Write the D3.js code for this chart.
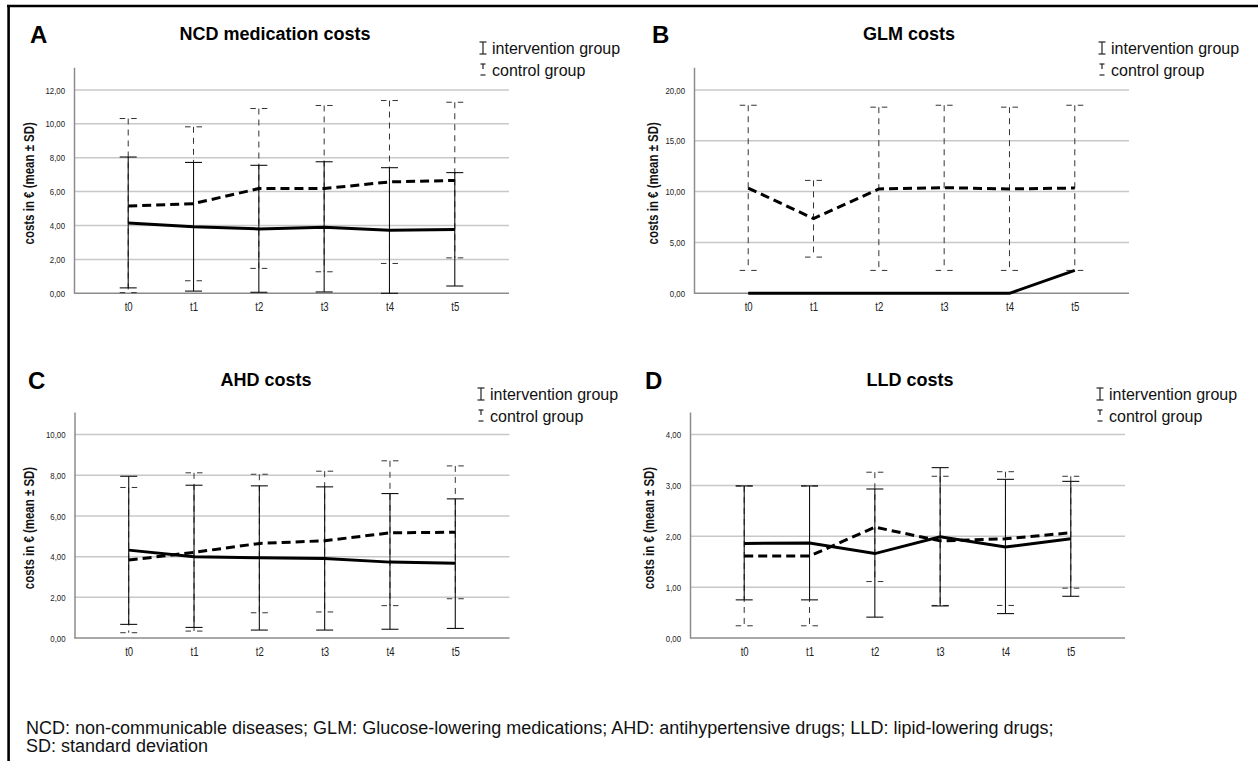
<!DOCTYPE html>
<html><head><meta charset="utf-8">
<script src="https://cdn.jsdelivr.net/npm/d3@7/dist/d3.min.js"></script>
<style>
html,body{margin:0;padding:0;background:#fff;}
svg{display:block;}
</style></head>
<body>
<svg id="chart" width="1258" height="761"></svg>
<script>
// ---------- DATA ----------
const categories = ["t0", "t1", "t2", "t3", "t4", "t5"];
const legendLabels = ["intervention group", "control group"];

// A: NCD medication costs
const ncdTicks = [0, 2, 4, 6, 8, 10, 12];
const ncdIntMean = [4.15, 3.92, 3.80, 3.90, 3.72, 3.76];
const ncdIntLow  = [0.32, 0.13, 0.06, 0.08, 0.00, 0.43];
const ncdIntHigh = [8.04, 7.72, 7.55, 7.76, 7.41, 7.12];
const ncdCtlMean = [5.15, 5.29, 6.18, 6.18, 6.57, 6.66];
const ncdCtlLow  = [0.04, 0.74, 1.47, 1.27, 1.76, 2.09];
const ncdCtlHigh = [10.31, 9.82, 10.90, 11.08, 11.37, 11.27];

// B: GLM costs
const glmTicks = [0, 5, 10, 15, 20];
const glmIntMean = [0, 0, 0, 0, 0, 2.25];
const glmCtlMean = [10.35, 7.35, 10.26, 10.39, 10.26, 10.35];
const glmCtlLow  = [2.25, 3.56, 2.25, 2.25, 2.25, 2.25];
const glmCtlHigh = [18.49, 11.10, 18.30, 18.49, 18.30, 18.49];

// C: AHD costs
const ahdTicks = [0, 2, 4, 6, 8, 10];
const ahdIntMean = [4.32, 3.99, 3.94, 3.91, 3.73, 3.67];
const ahdIntLow  = [0.67, 0.52, 0.39, 0.39, 0.43, 0.47];
const ahdIntHigh = [7.95, 7.51, 7.48, 7.43, 7.10, 6.84];
const ahdCtlMean = [3.83, 4.21, 4.65, 4.78, 5.17, 5.20];
const ahdCtlLow  = [0.26, 0.34, 1.24, 1.28, 1.59, 1.93];
const ahdCtlHigh = [7.40, 8.12, 8.05, 8.20, 8.71, 8.46];

// D: LLD costs
const lldTicks = [0, 1, 2, 3, 4];
const lldIntMean = [1.86, 1.87, 1.66, 1.99, 1.79, 1.95];
const lldIntLow  = [0.75, 0.75, 0.41, 0.63, 0.48, 0.82];
const lldIntHigh = [2.99, 2.99, 2.93, 3.35, 3.12, 3.08];
const lldCtlMean = [1.61, 1.61, 2.18, 1.91, 1.95, 2.07];
const lldCtlLow  = [0.24, 0.24, 1.11, 0.64, 0.64, 0.98];
const lldCtlHigh = [2.99, 2.99, 3.26, 3.18, 3.27, 3.18];

const footnoteLines = [
  "NCD: non-communicable diseases; GLM: Glucose-lowering medications; AHD: antihypertensive drugs; LLD: lipid-lowering drugs;",
  "SD: standard deviation"
];

// ---------- LAYOUT ----------
const panels = [
  {letter: "A", title: "NCD medication costs", ticks: ncdTicks,
   intMean: ncdIntMean, intLow: ncdIntLow, intHigh: ncdIntHigh,
   ctlMean: ncdCtlMean, ctlLow: ncdCtlLow, ctlHigh: ncdCtlHigh,
   ox: 74, oy: 293.3, letterX: 30, titleX: 275, legX: 483, titleYX: 34, dy: 0},
  {letter: "B", title: "GLM costs", ticks: glmTicks,
   intMean: glmIntMean, intLow: null, intHigh: null,
   ctlMean: glmCtlMean, ctlLow: glmCtlLow, ctlHigh: glmCtlHigh,
   ox: 694, oy: 293.3, letterX: 652, titleX: 909, legX: 1102, titleYX: 658, dy: 0},
  {letter: "C", title: "AHD costs", ticks: ahdTicks,
   intMean: ahdIntMean, intLow: ahdIntLow, intHigh: ahdIntHigh,
   ctlMean: ahdCtlMean, ctlLow: ahdCtlLow, ctlHigh: ahdCtlHigh,
   ox: 74.5, oy: 638, letterX: 28, titleX: 266, legX: 481, titleYX: 34, dy: 346},
  {letter: "D", title: "LLD costs", ticks: lldTicks,
   intMean: lldIntMean, intLow: lldIntLow, intHigh: lldIntHigh,
   ctlMean: lldCtlMean, ctlLow: lldCtlLow, ctlHigh: lldCtlHigh,
   ox: 690, oy: 638, letterX: 645, titleX: 910, legX: 1100, titleYX: 654, dy: 346}
];
const plotW = 435, axisH = 226;
const sans = "'Liberation Sans',Arial,Helvetica,sans-serif";
const squeeze = 0.8; // horizontal compression for the condensed axis font

const svg = d3.select("#chart");

// outer frame (top and left rules)
svg.append("line").attr("x1", 7).attr("x2", 1258).attr("y1", 6).attr("y2", 6)
  .attr("stroke", "#000").attr("stroke-width", 2.6);
svg.append("line").attr("x1", 8.6).attr("x2", 8.6).attr("y1", 5).attr("y2", 761)
  .attr("stroke", "#000").attr("stroke-width", 2.6);

const fmt = v => d3.format(".2f")(v).replace(".", ",");

panels.forEach(p => {
  const g = svg.append("g");
  const top = p.ticks[p.ticks.length - 1];
  const x = d3.scalePoint().domain(categories).range([p.ox, p.ox + plotW]).padding(0.83);
  const y = d3.scaleLinear().domain([0, top * 1.111]).range([p.oy, p.oy - axisH]);

  // gridlines
  g.append("g").selectAll("line").data(p.ticks.filter(t => t > 0)).join("line")
    .attr("x1", p.ox).attr("x2", p.ox + plotW)
    .attr("y1", d => y(d)).attr("y2", d => y(d))
    .attr("stroke", "#c8c8c8").attr("stroke-width", 1.5);

  // y axis (labels only, no tick marks)
  const yAxis = d3.axisLeft(y).tickValues(p.ticks).tickFormat(fmt).tickSize(0).tickPadding(9);
  const ya = g.append("g").attr("transform", `translate(${p.ox},0)`).call(yAxis);
  ya.select(".domain").attr("stroke", "#8c8c8c").attr("stroke-width", 1.5);
  ya.selectAll("text").attr("font-family", sans).attr("font-size", 9.8).attr("fill", "#222")
    .attr("x", -9 / squeeze).attr("transform", `scale(${squeeze},1)`);

  // x axis
  const xAxis = d3.axisBottom(x).tickSize(0).tickPadding(9);
  const xa = g.append("g").attr("transform", `translate(0,${p.oy})`).call(xAxis);
  xa.select(".domain").attr("d", `M${p.ox},0H${p.ox + plotW}`).attr("stroke", "#8c8c8c").attr("stroke-width", 1.5);
  xa.selectAll("text").attr("font-family", sans).attr("font-size", 12).attr("fill", "#222")
    .attr("transform", `scale(${squeeze},1)`);

  // y axis title
  g.append("text")
    .attr("transform", `translate(${p.titleYX},${p.oy - 110}) rotate(-90) scale(0.82,1)`)
    .attr("text-anchor", "middle")
    .attr("font-family", sans).attr("font-weight", "bold").attr("font-size", 14)
    .attr("fill", "#111")
    .text("costs in € (mean ± SD)");

  const capW = 8.5;
  // control error bars (dashed)
  if (p.ctlLow) {
    const cb = g.append("g").attr("stroke", "#333").attr("stroke-width", 1).attr("fill", "none");
    categories.forEach((c, i) => {
      const cx = x(c);
      cb.append("line").attr("x1", cx).attr("x2", cx)
        .attr("y1", y(p.ctlHigh[i])).attr("y2", y(p.ctlLow[i]))
        .attr("stroke-dasharray", "6,5");
      [p.ctlHigh[i], p.ctlLow[i]].forEach(v => {
        cb.append("line").attr("x1", cx - capW).attr("x2", cx + capW)
          .attr("y1", y(v)).attr("y2", y(v))
          .attr("stroke-dasharray", "5.5,6,5.5");
      });
    });
  }
  // intervention error bars (solid)
  if (p.intLow) {
    const ib = g.append("g").attr("stroke", "#111").attr("stroke-width", 1.1).attr("fill", "none");
    categories.forEach((c, i) => {
      const cx = x(c);
      ib.append("line").attr("x1", cx).attr("x2", cx)
        .attr("y1", y(p.intHigh[i])).attr("y2", y(p.intLow[i]));
      [p.intHigh[i], p.intLow[i]].forEach(v => {
        ib.append("line").attr("x1", cx - capW).attr("x2", cx + capW)
          .attr("y1", y(v)).attr("y2", y(v));
      });
    });
  }

  const line = d3.line().x((d, i) => x(categories[i])).y(d => y(d));
  g.append("path").datum(p.ctlMean).attr("d", line)
    .attr("fill", "none").attr("stroke", "#000").attr("stroke-width", 3)
    .attr("stroke-dasharray", "9,5");
  g.append("path").datum(p.intMean).attr("d", line)
    .attr("fill", "none").attr("stroke", "#000").attr("stroke-width", 3);

  // panel letter + title
  g.append("text").attr("x", p.letterX).attr("y", 43 + p.dy)
    .attr("font-family", sans).attr("font-weight", "bold").attr("font-size", 24)
    .text(p.letter);
  g.append("text").attr("x", p.titleX).attr("y", 40 + p.dy).attr("text-anchor", "middle")
    .attr("font-family", sans).attr("font-weight", "bold").attr("font-size", 18)
    .text(p.title);

  // legend
  const lg = g.append("g").attr("transform", `translate(${p.legX},${p.dy})`);
  const ls = lg.append("g").attr("stroke", "#222").attr("stroke-width", 1.2);
  // intervention symbol: I-beam
  ls.append("line").attr("x1", 0).attr("x2", 0).attr("y1", 42).attr("y2", 54);
  ls.append("line").attr("x1", -3.5).attr("x2", 3.5).attr("y1", 42).attr("y2", 42);
  ls.append("line").attr("x1", -3.5).attr("x2", 3.5).attr("y1", 54).attr("y2", 54);
  // control symbol
  ls.append("line").attr("x1", -2.5).attr("x2", 2.5).attr("y1", 64).attr("y2", 64);
  ls.append("line").attr("x1", 0).attr("x2", 0).attr("y1", 64).attr("y2", 69);
  ls.append("line").attr("x1", -2.5).attr("x2", 2.5).attr("y1", 75).attr("y2", 75);
  lg.selectAll("text.leg").data(legendLabels).join("text").attr("class", "leg")
    .attr("x", 9).attr("y", (d, i) => 54 + i * 22)
    .attr("font-family", sans).attr("font-size", 16).attr("fill", "#111")
    .text(d => d);
});

// footnote
svg.append("g").selectAll("text").data(footnoteLines).join("text")
  .attr("x", 26).attr("y", (d, i) => 734 + i * 18)
  .attr("font-family", sans).attr("font-size", 18).attr("fill", "#111")
  .text(d => d);
</script>
</body></html>
